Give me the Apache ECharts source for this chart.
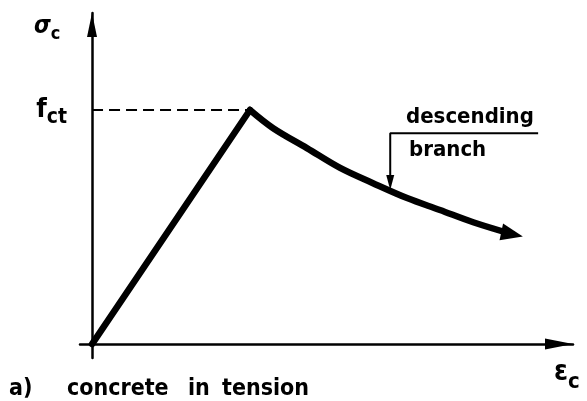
<!DOCTYPE html>
<html>
<head>
<meta charset="utf-8">
<script src="https://cdn.jsdelivr.net/npm/echarts@6.0.0/dist/echarts.min.js"></script>
<style>
  html, body { margin: 0; padding: 0; background: #fff; }
  #chart { width: 587px; height: 401px; }
</style>
</head>
<body>
<div id="chart"></div>
<script>
// strain / stress in arbitrary units
const fct = 7.07
const risePoints = [[0, 0], [3.94, fct]]
const fallPoints = [[3.94, fct], [4.52, 6.52], [5.36, 5.92], [6.19, 5.32], [7.01, 4.86], [7.86, 4.41], [8.68, 4.05], [9.51, 3.68], [10.48, 3.32]]
const leaderPoints = [[11.13, 6.37], [7.44, 6.37], [7.44, 4.88]]
const fctDash = [[0, fct], [3.94, fct]]

const font = '"DejaVu Sans Condensed", "DejaVu Sans", sans-serif'

const myChart = echarts.init(document.getElementById('chart'))

// put an arrow head on the last point of a polyline
function withArrow(points, size, rotate) {
  return points.map((p, i) => {
    if (i < points.length - 1) return p
    return { value: p, symbol: 'triangle', symbolSize: size, symbolRotate: rotate }
  })
}

myChart.setOption({
  animation: false,
  backgroundColor: '#fff',
  grid: {
    left: 80,
    right: 14,
    top: 13,
    bottom: 43
  },
  xAxis: {
    type: 'value',
    min: -0.3,
    max: 12,
    splitLine: { show: false },
    axisTick: { show: false },
    axisLabel: { show: false },
    axisLine: {
      onZero: true,
      symbol: ['none', 'triangle'],
      symbolSize: [11, 28],
      symbolOffset: [0, -14],
      lineStyle: { color: '#000', width: 2.5 }
    }
  },
  yAxis: {
    type: 'value',
    min: -0.42,
    max: 10,
    splitLine: { show: false },
    axisTick: { show: false },
    axisLabel: {
      show: true,
      customValues: [fct],
      margin: 13,
      formatter: () => '{f|f}{s|ct}',
      rich: {
        f: { fontFamily: font, fontSize: 27, fontWeight: 'bold', color: '#000', verticalAlign: 'bottom' },
        s: { fontFamily: font, fontSize: 21, fontWeight: 'bold', color: '#000', verticalAlign: 'bottom', padding: [0, 0, -5, 0] }
      }
    },
    axisLine: {
      onZero: true,
      symbol: ['none', 'triangle'],
      symbolSize: [10, 24],
      symbolOffset: [0, -12],
      lineStyle: { color: '#000', width: 2.5 }
    }
  },
  series: [
    {
      name: 'rise',
      type: 'line',
      data: risePoints,
      symbol: 'none',
      clip: false,
      lineStyle: { color: '#000', width: 6.5, cap: 'round', join: 'round' }
    },
    {
      name: 'descending branch',
      type: 'line',
      data: withArrow(fallPoints, [17, 22], -102),
      symbol: 'none',
      smooth: 0.35,
      clip: false,
      lineStyle: { color: '#000', width: 6.5, cap: 'round', join: 'round' },
      itemStyle: { color: '#000' }
    },
    {
      name: 'fct',
      type: 'line',
      data: fctDash,
      symbol: 'none',
      clip: false,
      lineStyle: { color: '#000', width: 2.2, type: [11, 6] }
    },
    {
      name: 'leader',
      type: 'line',
      data: withArrow(leaderPoints, [8, 15], 180),
      symbol: 'none',
      clip: false,
      lineStyle: { color: '#000', width: 2 },
      itemStyle: { color: '#000' }
    }
  ],
  graphic: [
    {
      type: 'text',
      left: 34,
      top: 15,
      style: {
        text: '{m|σ}{s|c}',
        rich: {
          m: { fontFamily: font, fontSize: 24, fontWeight: 'bold', fontStyle: 'italic', fill: '#000', verticalAlign: 'bottom' },
          s: { fontFamily: font, fontSize: 18, fontWeight: 'bold', fill: '#000', verticalAlign: 'bottom', padding: [0, 0, -4, 0] }
        }
      }
    },
    {
      type: 'text',
      left: 554,
      top: 359,
      style: {
        text: '{m|ε}{s|c}',
        rich: {
          m: { fontFamily: font, fontSize: 28, fontWeight: 'bold', fill: '#000', verticalAlign: 'bottom' },
          s: { fontFamily: font, fontSize: 22, fontWeight: 'bold', fill: '#000', verticalAlign: 'bottom', padding: [0, 0, -6, 0] }
        }
      }
    },
    {
      type: 'text',
      left: 406,
      top: 106,
      style: { text: 'descending', fontFamily: font, fontSize: 22, fontWeight: 'bold', fill: '#000' }
    },
    {
      type: 'text',
      left: 409,
      top: 139,
      style: { text: 'branch', fontFamily: font, fontSize: 22, fontWeight: 'bold', fill: '#000' }
    },
    {
      type: 'text',
      left: 9,
      top: 378,
      style: {
        text: '{a|a)}{b|concrete}{c|in}{d|tension}',
        rich: {
          a: { fontFamily: font, fontSize: 23, fontWeight: 'bold', fill: '#000', width: 58 },
          b: { fontFamily: font, fontSize: 23, fontWeight: 'bold', fill: '#000', width: 121 },
          c: { fontFamily: font, fontSize: 23, fontWeight: 'bold', fill: '#000', width: 34 },
          d: { fontFamily: font, fontSize: 23, fontWeight: 'bold', fill: '#000' }
        }
      }
    }
  ]
})
</script>
</body>
</html>
